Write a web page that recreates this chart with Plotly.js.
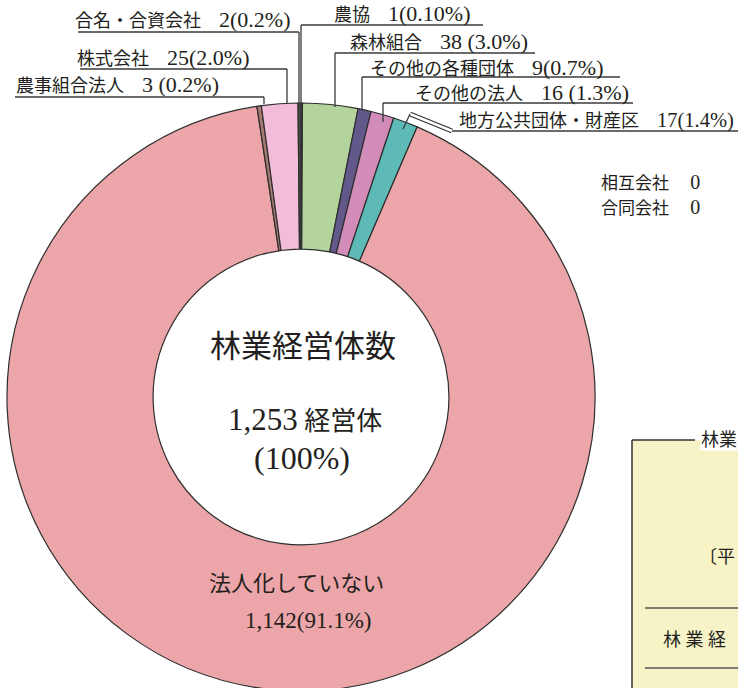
<!DOCTYPE html>
<html><head><meta charset="utf-8">
<script src="https://cdn.plot.ly/plotly-3.0.1.min.js"></script>
<style>html,body{margin:0;padding:0;overflow:hidden;background:#fff;} #chart{width:738px;height:800px;}</style>
</head><body><div id="chart"></div>
<script>
// ---- data ----
const categories = ['農協','森林組合','その他の各種団体','その他の法人','地方公共団体・財産区','法人化していない','農事組合法人','株式会社','合名・合資会社'];
const counts = [1, 38, 9, 16, 17, 1142, 3, 25, 2];
const shares = ['0.10', '3.0', '0.7', '1.3', '1.4', '91.1', '0.2', '2.0', '0.2'];
const sliceColors = ['#8ecbe3','#b3d49c','#62588a','#d18cba','#5dbab6','#eca6a9','#a67b72','#f1bdd8','#4a4a4a'];
const zeroCategories = ['相互会社','合同会社'];
const zeroCounts = [0, 0];
const centerTitle = '林業経営体数';
const unitLabel = '経営体';
const boxTexts = ['林業', '〔平', '林 業 経'];

// ---- layout helpers ----
const W = 738, H = 800;
const px = x => x / W;
const py = y => 1 - y / H;
const FONT = '"Liberation Serif", "Noto Sans CJK JP", serif';
const INK = '#231f20';
const LINE = '#3a3a3a';

const total = counts.reduce((a, b) => a + b, 0);

// label placement (pixels): text start x, text centre y, underline y, underline x0,x1, leader x, leader end y, number size
const place = {
  '農協':               {tx:333, ty:14,  uy:25,  ux0:301, ux1:483, lx:301, ly:108, ns:22},
  '森林組合':           {tx:349, ty:42,  uy:53,  ux0:335, ux1:535, lx:335, ly:107, ns:22},
  'その他の各種団体':   {tx:369, ty:67,  uy:77,  ux0:362, ux1:620, lx:362, ly:109, ns:22},
  'その他の法人':       {tx:414, ty:93,  uy:103, ux0:383, ux1:633, lx:383, ly:122, ns:22},
  '地方公共団体・財産区': {tx:458, ty:120, uy:131, ux0:452, ux1:760, lx:null, ns:20.5},
  '農事組合法人':       {tx:15,  ty:85,  uy:97,  ux0:15,  ux1:264, lx:264, ly:104, ns:22},
  '株式会社':           {tx:76,  ty:57,  uy:69,  ux0:80,  ux1:287, lx:287, ly:104, ns:22},
  '合名・合資会社':     {tx:74,  ty:19,  uy:32,  ux0:78,  ux1:299, lx:299, ly:108, ns:22}
};

const annotations = [];
const shapes = [];
function txt(x, y, text, size, anchor, extra) {
  annotations.push(Object.assign({
    xref:'paper', yref:'paper', x:px(x), y:py(y), text:text, showarrow:false,
    xanchor:anchor || 'left', yanchor:'middle',
    font:{family:FONT, size:size, color:INK}, borderpad:0
  }, extra || {}));
}
function seg(x0, y0, x1, y1, color, width) {
  shapes.push({type:'line', xref:'paper', yref:'paper', x0:px(x0), y0:py(y0), x1:px(x1), y1:py(y1),
    line:{color:color || LINE, width:width || 1.2}});
}
const num = (s, size) => '<span style="font-size:' + size + 'px">' + s + '</span>';

categories.forEach((c, i) => {
  const p = place[c];
  if (!p) return;
  const gap = (c === '森林組合' || c === 'その他の法人' || c === '農事組合法人') ? ' ' : '';
  txt(p.tx, p.ty, c + '\u3000' + num(counts[i] + gap + '(' + shares[i] + '%)', p.ns), 18);
  seg(p.ux0, p.uy, p.ux1, p.uy, LINE, 1.4);
  if (p.lx !== null) seg(p.lx, p.uy, p.lx, p.ly, LINE, 1.3);
});
// leader for 地方公共団体・財産区 (white band with dark outline)
seg(452, 131, 410, 114, '#333', 5);
seg(452, 131, 410, 114, '#ffffff', 2.6);
seg(410, 114, 403, 129, LINE, 1.3);

// centre texts
txt(303, 346, centerTitle, 31, 'center');
txt(305, 419, num(total.toLocaleString('en-US'), 31) + ' ' + unitLabel, 26, 'center');
txt(302, 458, '(' + (100).toString() + '%)', 32, 'center');

// big slice label
const bigIdx = categories.indexOf('法人化していない');
txt(296, 583, categories[bigIdx], 22, 'center');
txt(308, 620, counts[bigIdx].toLocaleString('en-US') + '(' + shares[bigIdx] + '%)', 23, 'center');

// zero categories
zeroCategories.forEach((c, i) => {
  txt(600, 182 + i * 25, c + '\u3000 ' + num(zeroCounts[i], 20), 17);
});

// yellow box (partially outside the view)
shapes.push({type:'rect', xref:'paper', yref:'paper', x0:px(632), y0:py(440), x1:px(780), y1:py(820),
  fillcolor:'#f6f3c6', line:{width:0}, layer:'below'});
seg(632, 440, 632, 820, '#333', 1.5);
seg(632, 440, 695, 440, '#333', 1.5);
seg(645, 608, 780, 608, '#555', 1.3);
seg(645, 668, 780, 668, '#555', 1.3);
txt(700, 440, boxTexts[0], 18, 'left', {bgcolor:'#ffffff'});
txt(698, 557, boxTexts[1], 18);
txt(662, 640, boxTexts[2], 18);

const trace = {
  type:'pie', values:counts, labels:categories, sort:false, direction:'clockwise', rotation:0,
  hole:0.503, textinfo:'none', hoverinfo:'label+value', showlegend:false,
  marker:{colors:sliceColors, line:{color:'#2e2e2e', width:1.2}},
  domain:{x:[px(7), px(595)], y:[py(691), py(103)]}
};

Plotly.newPlot('chart', [trace], {
  width:W, height:H, margin:{l:0, r:0, t:0, b:0},
  paper_bgcolor:'#ffffff', showlegend:false,
  annotations:annotations, shapes:shapes
}, {staticPlot:true});
</script></body></html>
